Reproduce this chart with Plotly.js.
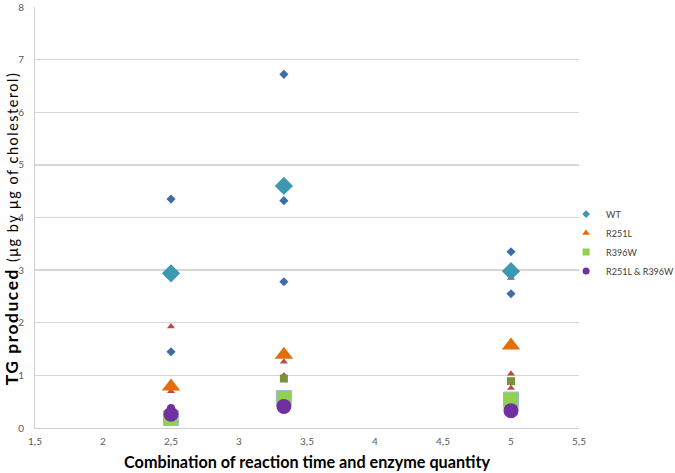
<!DOCTYPE html>
<html>
<head>
<meta charset="utf-8">
<script src="https://cdn.plot.ly/plotly-3.0.1.min.js"></script>
<style>
html,body{margin:0;padding:0;background:#fff}
#chart{width:675px;height:473px}
#chart .annotation-text{letter-spacing:1.5px}
</style>
</head>
<body>
<div id="chart"></div>
<script>
// Conditions (x positions)
const conditionX = [2.5, 3.33, 5];

// Mean values (large markers)
const wtMean = [2.94, 4.60, 2.98];
const r251lMean = [0.79, 1.39, 1.57];
const r396wMean = [0.19, 0.57, 0.54];
const doubleMean = [0.26, 0.41, 0.33];

// Individual replicates (small markers)
const wtRepX = [2.5, 2.5, 3.33, 3.33, 3.33, 5, 5];
const wtRepY = [4.35, 1.45, 6.72, 4.32, 2.78, 3.35, 2.55];
const r251lRepX = [2.5, 2.5, 3.33, 3.33, 5, 5, 5];
const r251lRepY = [1.93, 0.70, 1.26, 1.00, 2.85, 1.03, 0.76];
const r396wRepX = [3.33, 5];
const r396wRepY = [0.94, 0.89];
const doubleRepX = [2.5];
const doubleRepY = [0.38];

const seriesNames = ['WT', 'R251L', 'R396W', 'R251L &amp; R396W'];
const xTitle = '<b>Combination of reaction time and enzyme quantity</b>';
const yTitle = '<b>TG produced</b> <span style="font-size:14.5px">(μg by μg of cholesterol)</span>';

const FONT = 'Lato, "Open Sans", sans-serif';

const traces = [
  {x: wtRepX, y: wtRepY, type: 'scatter', mode: 'markers', showlegend: false,
   marker: {symbol: 'diamond', size: 7, color: '#3d6cab'}},
  {x: r251lRepX, y: r251lRepY, type: 'scatter', mode: 'markers', showlegend: false,
   marker: {symbol: 'triangle-up', size: 7, color: '#be4b48'}},
  {x: r396wRepX, y: r396wRepY, type: 'scatter', mode: 'markers', showlegend: false,
   marker: {symbol: 'square', size: 8, color: '#77933c'}},
  {x: doubleRepX, y: doubleRepY, type: 'scatter', mode: 'markers', showlegend: false,
   marker: {symbol: 'circle', size: 8, color: '#7030a0'}},
  {x: conditionX, y: wtMean, type: 'scatter', mode: 'markers', showlegend: false,
   marker: {symbol: 'diamond', size: 14, color: '#3d98b1'}},
  {x: conditionX, y: r251lMean, type: 'scatter', mode: 'markers', showlegend: false,
   marker: {symbol: 'triangle-up', size: 16, color: '#e46c0a'}},
  {x: conditionX, y: r396wMean, type: 'scatter', mode: 'markers', showlegend: false,
   marker: {symbol: 'square', size: 15, color: '#92d050', line: {color: '#9db8da', width: 1}}},
  {x: conditionX, y: doubleMean, type: 'scatter', mode: 'markers', showlegend: false,
   marker: {symbol: 'circle', size: 15, color: '#7030a0'}},
  // legend entries
  {x: [null], y: [null], type: 'scatter', mode: 'markers', name: seriesNames[0],
   marker: {symbol: 'diamond', size: 6, color: '#3d98b1'}},
  {x: [null], y: [null], type: 'scatter', mode: 'markers', name: seriesNames[1],
   marker: {symbol: 'triangle-up', size: 7, color: '#e46c0a'}},
  {x: [null], y: [null], type: 'scatter', mode: 'markers', name: seriesNames[2],
   marker: {symbol: 'square', size: 7, color: '#92d050'}},
  {x: [null], y: [null], type: 'scatter', mode: 'markers', name: seriesNames[3],
   marker: {symbol: 'circle', size: 7, color: '#7030a0'}}
];

const layout = {
  width: 675, height: 473,
  margin: {l: 35, r: 96, t: 7, b: 45, autoexpand: false},
  paper_bgcolor: '#ffffff', plot_bgcolor: '#ffffff',
  separators: ',.',
  font: {family: FONT, size: 10, color: '#595959'},
  showlegend: true,
  legend: {x: 1.184, y: 0.5425, xanchor: 'right', yanchor: 'top',
    font: {family: FONT, size: 9, color: '#404040'}, itemwidth: 30, tracegroupgap: 0,
    bgcolor: 'rgba(0,0,0,0)'},
  xaxis: {range: [1.5, 5.5], dtick: 0.5, tick0: 1.5, showgrid: false, zeroline: false,
    showline: true, linecolor: '#d0d0d0', linewidth: 1, ticks: '', ticklabelstandoff: 4,
    tickfont: {family: FONT, size: 10, color: '#595959'},
    title: {text: xTitle, font: {family: FONT, size: 16.2, color: '#000000'}, standoff: 10}},
  yaxis: {range: [0, 8], dtick: 1, showgrid: true, gridcolor: '#d6d6d6', gridwidth: 1.3,
    zeroline: false, showline: true, linecolor: '#d0d0d0', linewidth: 1, ticks: '',
    ticklabelstandoff: 8,
    tickfont: {family: FONT, size: 10, color: '#595959'}},
  annotations: [{
    text: yTitle, textangle: -90, showarrow: false,
    xref: 'paper', yref: 'paper', x: -0.0423, y: 0.5, xanchor: 'center', yanchor: 'middle',
    yshift: -11,
    font: {family: FONT, size: 17.5, color: '#000000'}
  }]
};

Plotly.newPlot('chart', traces, layout, {displayModeBar: false, staticPlot: true});
</script>
</body>
</html>
